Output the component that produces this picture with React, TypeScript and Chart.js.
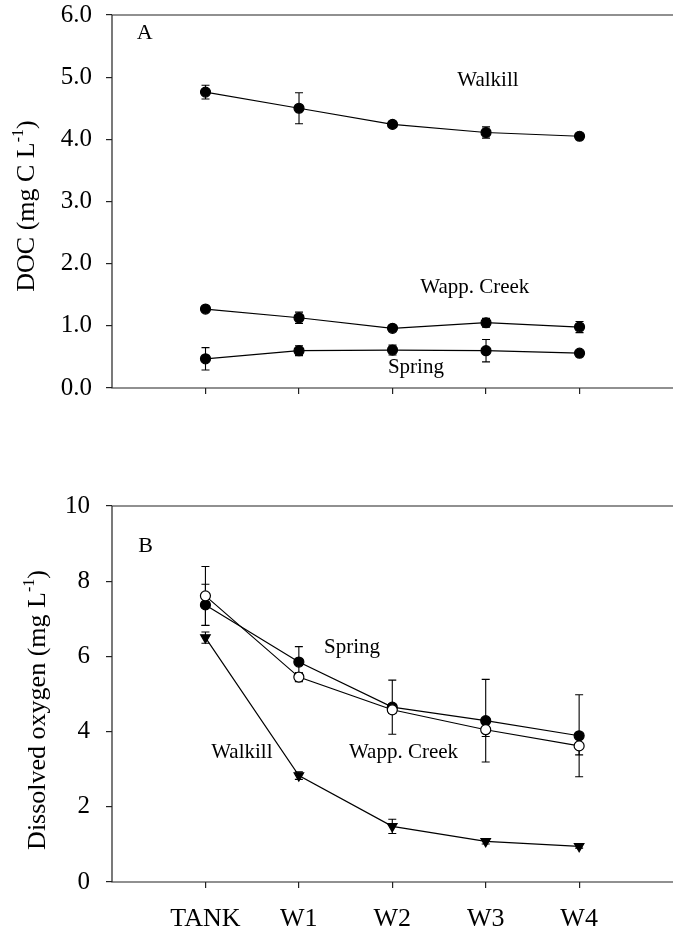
import React, { useEffect, useRef } from "react";
import { Chart, registerables } from "chart.js";

Chart.register(...registerables);

const FONT = "'Liberation Serif', 'Times New Roman', Times, serif";

// Sampling stations along the flow path
const stations = ["TANK", "W1", "W2", "W3", "W4"];
const stationIndex = [0, 1, 2, 3, 4];

// Panel A: dissolved organic carbon (mg C L-1), mean and error
const docWalkill = [4.76, 4.5, 4.24, 4.11, 4.05];
const docWalkillErr = [0.11, 0.25, 0.05, 0.09, 0.03];
const docWapp = [1.27, 1.13, 0.96, 1.05, 0.98];
const docWappErr = [0.02, 0.09, 0.03, 0.07, 0.09];
const docSpring = [0.47, 0.6, 0.61, 0.6, 0.56];
const docSpringErr = [0.18, 0.08, 0.08, 0.18, 0.02];
const docTicks = [0, 1, 2, 3, 4, 5, 6];

// Panel B: dissolved oxygen (mg L-1), mean and error
const doSpring = [7.37, 5.85, 4.65, 4.29, 3.89];
const doSpringErr = [0.55, 0.41, 0.72, 1.1, 1.09];
const doWapp = [7.61, 5.45, 4.58, 4.05, 3.62];
const doWappErr = [0.78, 0.12, 0.1, 0.18, 0.24];
const doWalkill = [6.5, 2.83, 1.48, 1.08, 0.95];
const doWalkillErr = [0.15, 0.1, 0.19, 0.07, 0.05];
const doTicks = [0, 2, 4, 6, 8, 10];

// Canvas is wider than the page; the plot runs off the right edge
const CANVAS_W = 700;
const X_MIN = -1;
const X_MAX = 5.222;

type Note = { text: string; x: number; y: number; size: number };

const notesA: Note[] = [
  { text: "A", x: -0.65, y: 5.71, size: 22 },
  { text: "Walkill", x: 3.02, y: 4.95, size: 21 },
  { text: "Wapp. Creek", x: 2.88, y: 1.61, size: 21 },
  { text: "Spring", x: 2.25, y: 0.33, size: 21 },
];

const notesB: Note[] = [
  { text: "B", x: -0.64, y: 8.94, size: 22 },
  { text: "Spring", x: 1.57, y: 6.25, size: 21 },
  { text: "Walkill", x: 0.39, y: 3.44, size: 21 },
  { text: "Wapp. Creek", x: 2.12, y: 3.44, size: 21 },
];

const toPoints = (values: number[]) => values.map((v, i) => ({ x: stationIndex[i], y: v }));

type Marker = "filled" | "open" | "down";

function lineSet(label: string, values: number[], errors: number[], marker: Marker) {
  const base: any = {
    label,
    data: toPoints(values),
    errors,
    borderColor: "#000",
    borderWidth: 1.2,
    tension: 0,
    fill: false,
    pointRadius: 5,
    pointHoverRadius: 5,
    pointBorderColor: "#000",
    pointBorderWidth: 1.2,
    pointBackgroundColor: "#000",
    pointStyle: "circle",
  };
  if (marker === "open") base.pointBackgroundColor = "#fff";
  if (marker === "down") {
    base.pointStyle = "triangle";
    base.pointRotation = 180;
    base.pointRadius = 5.5;
    base.pointHoverRadius = 5.5;
  }
  return base;
}

// Vertical error bars with short caps, drawn underneath the markers
const errorBars = {
  id: "errorBars",
  beforeDatasetsDraw(chart: any) {
    const { ctx } = chart;
    const xs = chart.scales.x;
    const ys = chart.scales.y;
    ctx.save();
    ctx.strokeStyle = "#000";
    ctx.lineWidth = 1.1;
    chart.data.datasets.forEach((ds: any) => {
      const errs: number[] = ds.errors || [];
      ds.data.forEach((p: any, j: number) => {
        const e = errs[j];
        if (!e) return;
        const px = xs.getPixelForValue(p.x);
        const t = ys.getPixelForValue(p.y + e);
        const b = ys.getPixelForValue(p.y - e);
        ctx.beginPath();
        ctx.moveTo(px, t);
        ctx.lineTo(px, b);
        ctx.moveTo(px - 4, t);
        ctx.lineTo(px + 4, t);
        ctx.moveTo(px - 4, b);
        ctx.lineTo(px + 4, b);
        ctx.stroke();
      });
    });
    ctx.restore();
  },
};

type TitleSpec = { main: string; sup: string; tail: string; x: number; cy: number; size: number };

function decorPlugin(notes: Note[], title: TitleSpec) {
  return {
    id: "decor",
    afterDraw(chart: any) {
      const { ctx, chartArea } = chart;
      const xs = chart.scales.x;
      const ys = chart.scales.y;
      ctx.save();
      // plot frame: left, top and bottom edges
      ctx.strokeStyle = "#222";
      ctx.lineWidth = 1.2;
      ctx.beginPath();
      ctx.moveTo(chartArea.right, chartArea.top);
      ctx.lineTo(chartArea.left, chartArea.top);
      ctx.lineTo(chartArea.left, chartArea.bottom);
      ctx.lineTo(chartArea.right, chartArea.bottom);
      ctx.stroke();

      // in-plot labels
      ctx.fillStyle = "#000";
      ctx.textAlign = "center";
      ctx.textBaseline = "middle";
      notes.forEach((n) => {
        ctx.font = `${n.size}px ${FONT}`;
        ctx.fillText(n.text, xs.getPixelForValue(n.x), ys.getPixelForValue(n.y));
      });

      // rotated y-axis title with a superscript unit exponent
      ctx.translate(title.x, title.cy);
      ctx.rotate(-Math.PI / 2);
      ctx.textAlign = "left";
      ctx.textBaseline = "alphabetic";
      const mainFont = `${title.size}px ${FONT}`;
      const supFont = `${Math.round(title.size * 0.62)}px ${FONT}`;
      ctx.font = mainFont;
      const w1 = ctx.measureText(title.main).width;
      const w3 = ctx.measureText(title.tail).width;
      ctx.font = supFont;
      const w2 = ctx.measureText(title.sup).width;
      const start = -(w1 + w2 + w3) / 2;
      ctx.font = mainFont;
      ctx.fillText(title.main, start, 0);
      ctx.font = supFont;
      ctx.fillText(title.sup, start + w1, -title.size * 0.42);
      ctx.font = mainFont;
      ctx.fillText(title.tail, start + w1 + w2, 0);
      ctx.restore();
    },
  };
}

type PanelSpec = {
  datasets: any[];
  yMin: number;
  yMax: number;
  yTicks: number[];
  yDigits: number;
  yTickPad: number;
  showXLabels: boolean;
  padTop: number;
  xAxisHeight: number;
  notes: Note[];
  title: TitleSpec;
};

function buildChart(canvas: HTMLCanvasElement, spec: PanelSpec) {
  const grid = {
    drawOnChartArea: false,
    drawTicks: true,
    tickLength: 6,
    color: "#222",
    lineWidth: 1.2,
  };
  const noEdgePadding = (s: any) => {
    s.paddingTop = 0;
    s.paddingBottom = 0;
    s.paddingLeft = 0;
    s.paddingRight = 0;
  };
  return new Chart(canvas, {
    type: "line",
    data: { datasets: spec.datasets },
    plugins: [errorBars, decorPlugin(spec.notes, spec.title)],
    options: {
      animation: false,
      responsive: false,
      maintainAspectRatio: false,
      events: [],
      layout: { padding: { top: spec.padTop, left: 0, right: 0, bottom: 0 } },
      plugins: { legend: { display: false }, tooltip: { enabled: false } },
      scales: {
        x: {
          type: "linear",
          min: X_MIN,
          max: X_MAX,
          afterBuildTicks: (s: any) => {
            s.ticks = stationIndex.map((v) => ({ value: v }));
          },
          afterFit: (s: any) => {
            s.height = spec.xAxisHeight;
            noEdgePadding(s);
          },
          ticks: {
            autoSkip: false,
            maxRotation: 0,
            padding: 16,
            color: "#000",
            font: { family: FONT, size: 26 },
            callback: (v: any) => (spec.showXLabels ? stations[Number(v)] : ""),
          },
          grid,
          border: { display: false },
        },
        y: {
          type: "linear",
          min: spec.yMin,
          max: spec.yMax,
          afterBuildTicks: (s: any) => {
            s.ticks = spec.yTicks.map((v) => ({ value: v }));
          },
          afterFit: (s: any) => {
            s.width = 112;
            noEdgePadding(s);
          },
          ticks: {
            autoSkip: false,
            padding: spec.yTickPad,
            color: "#000",
            font: { family: FONT, size: 25 },
            callback: (v: any) => Number(v).toFixed(spec.yDigits),
          },
          grid,
          border: { display: false },
        },
      },
    } as any,
  });
}

export default function App() {
  const refA = useRef<HTMLCanvasElement | null>(null);
  const refB = useRef<HTMLCanvasElement | null>(null);

  useEffect(() => {
    if (!refA.current || !refB.current) return;
    const chartA = buildChart(refA.current, {
      datasets: [
        lineSet("Walkill", docWalkill, docWalkillErr, "filled"),
        lineSet("Wapp. Creek", docWapp, docWappErr, "filled"),
        lineSet("Spring", docSpring, docSpringErr, "filled"),
      ],
      yMin: 0,
      yMax: 6,
      yTicks: docTicks,
      yDigits: 1,
      yTickPad: 14,
      showXLabels: false,
      padTop: 15,
      xAxisHeight: 32,
      notes: notesA,
      title: { main: "DOC (mg C L", sup: "-1", tail: ")", x: 34, cy: 206, size: 26 },
    });
    const chartB = buildChart(refB.current, {
      datasets: [
        lineSet("Wapp. Creek", doWapp, doWappErr, "open"),
        lineSet("Spring", doSpring, doSpringErr, "filled"),
        lineSet("Walkill", doWalkill, doWalkillErr, "down"),
      ],
      yMin: 0,
      yMax: 10,
      yTicks: doTicks,
      yDigits: 0,
      yTickPad: 16,
      showXLabels: true,
      padTop: 76,
      xAxisHeight: 48,
      notes: notesB,
      title: { main: "Dissolved oxygen (mg L", sup: "-1", tail: ")", x: 45, cy: 280, size: 26 },
    });
    return () => {
      chartA.destroy();
      chartB.destroy();
    };
  }, []);

  return (
    <div
      style={{
        position: "fixed",
        left: 0,
        top: 0,
        width: "100vw",
        height: "100vh",
        overflow: "hidden",
        background: "#fff",
      }}
    >
      <canvas
        ref={refA}
        width={CANVAS_W}
        height={420}
        style={{ position: "absolute", left: 0, top: 0, width: CANVAS_W, height: 420 }}
      />
      <canvas
        ref={refB}
        width={CANVAS_W}
        height={500}
        style={{ position: "absolute", left: 0, top: 430, width: CANVAS_W, height: 500 }}
      />
    </div>
  );
}
